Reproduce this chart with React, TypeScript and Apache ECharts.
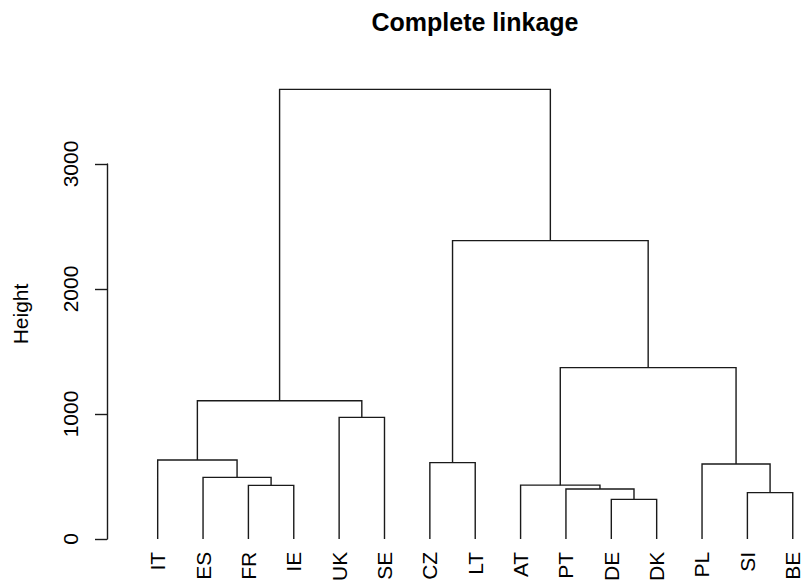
import React, { useEffect, useRef } from "react";
import * as echarts from "echarts";

// Leaves in dendrogram order
const leaves = ["IT", "ES", "FR", "IE", "UK", "SE", "CZ", "LT", "AT", "PT", "DE", "DK", "PL", "SI", "BE"];
// Merge table (R hclust style): negative = leaf (1-based order), positive = earlier merge (1-based)
const mergeA = [-11, -14, -10, -3, -9, -2, -13, -7, -1, -5, 9, 5, 8, 11];
const mergeB = [-12, -15, 1, -4, 3, 4, 2, -8, 6, -6, 10, 7, 12, 13];
const mergeHeight = [317, 371, 400, 429, 431, 493, 600, 611, 632, 973, 1106, 1371, 2387, 3597];
const heightTicks = [0, 1000, 2000, 3000];

const FONT = "'Liberation Sans', Arial, Helvetica, sans-serif";
const INK = "#1a1a1a";

function buildSegments() {
  const mx: number[] = [];
  const pos = (id: number) => (id < 0 ? -id : mx[id - 1]);
  const hgt = (id: number) => (id < 0 ? 0 : mergeHeight[id - 1]);
  const rows: number[][] = [];
  for (let i = 0; i < mergeA.length; i++) {
    const a = mergeA[i];
    const b = mergeB[i];
    const xa = pos(a);
    const xb = pos(b);
    mx.push((xa + xb) / 2);
    rows.push([xa, hgt(a), xb, hgt(b), mergeHeight[i]]);
  }
  return rows;
}

export default function App() {
  const ref = useRef<HTMLDivElement>(null);
  useEffect(() => {
    if (!ref.current) return;
    const chart = echarts.init(ref.current, undefined, { renderer: "svg" });
    const segs = buildSegments();
    chart.setOption({
      animation: false,
      backgroundColor: "#ffffff",
      textStyle: { fontFamily: FONT },
      title: {
        text: "Complete linkage",
        left: 470,
        top: 4,
        textAlign: "center",
        textStyle: { fontSize: 25, fontWeight: "bold", color: "#000", fontFamily: FONT },
      },
      grid: [
        { left: 135, top: 89, width: 669.1, height: 450 },
        { left: 107, top: 164, width: 10, height: 375 },
        { left: 157.7, top: 89, width: 635, height: 450 },
      ],
      xAxis: [
        { type: "value", gridIndex: 0, min: 0.5, max: 15.25, show: false },
        { type: "value", gridIndex: 1, show: false },
        {
          type: "category",
          gridIndex: 2,
          data: leaves,
          position: "bottom",
          boundaryGap: false,
          axisLine: { show: false },
          axisTick: { show: false },
          axisLabel: { rotate: 90, fontSize: 21, color: "#000", margin: 13, fontFamily: FONT, interval: 0 },
        },
      ],
      yAxis: [
        {
          type: "value",
          gridIndex: 0,
          min: 0,
          max: 3600,
          name: "Height",
          nameLocation: "middle",
          nameRotate: 90,
          nameGap: 104,
          nameTextStyle: { fontSize: 21, color: "#000", fontFamily: FONT },
          axisLine: { show: false },
          axisTick: { show: false },
          axisLabel: { show: false },
          splitLine: { show: false },
        },
        {
          type: "value",
          gridIndex: 1,
          min: heightTicks[0],
          max: heightTicks[heightTicks.length - 1],
          interval: 1000,
          position: "left",
          axisLine: { show: true, lineStyle: { color: INK, width: 1.4 } },
          axisTick: { show: true, length: 12, lineStyle: { color: INK, width: 1.4 } },
          axisLabel: {
            rotate: 90,
            fontSize: 21,
            color: "#000",
            margin: 26,
            fontFamily: FONT,
            formatter: (v: number) => String(v),
          },
          splitLine: { show: false },
        },
        { type: "value", gridIndex: 2, show: false },
      ],
      series: [
        {
          type: "custom",
          xAxisIndex: 0,
          yAxisIndex: 0,
          data: segs,
          encode: { x: [0, 2], y: [1, 3, 4] },
          renderItem: (params: any, api: any) => {
            const p1 = api.coord([api.value(0), api.value(1)]);
            const p2 = api.coord([api.value(0), api.value(4)]);
            const p3 = api.coord([api.value(2), api.value(4)]);
            const p4 = api.coord([api.value(2), api.value(3)]);
            return {
              type: "polyline",
              shape: { points: [p1, p2, p3, p4] },
              style: { stroke: INK, lineWidth: 1.4, fill: "none" },
            };
          },
        },
      ],
    });
    return () => chart.dispose();
  }, []);
  return (
    <div
      ref={ref}
      style={{ position: "fixed", left: 0, top: 0, width: 805, height: 584, background: "#fff" }}
    />
  );
}
